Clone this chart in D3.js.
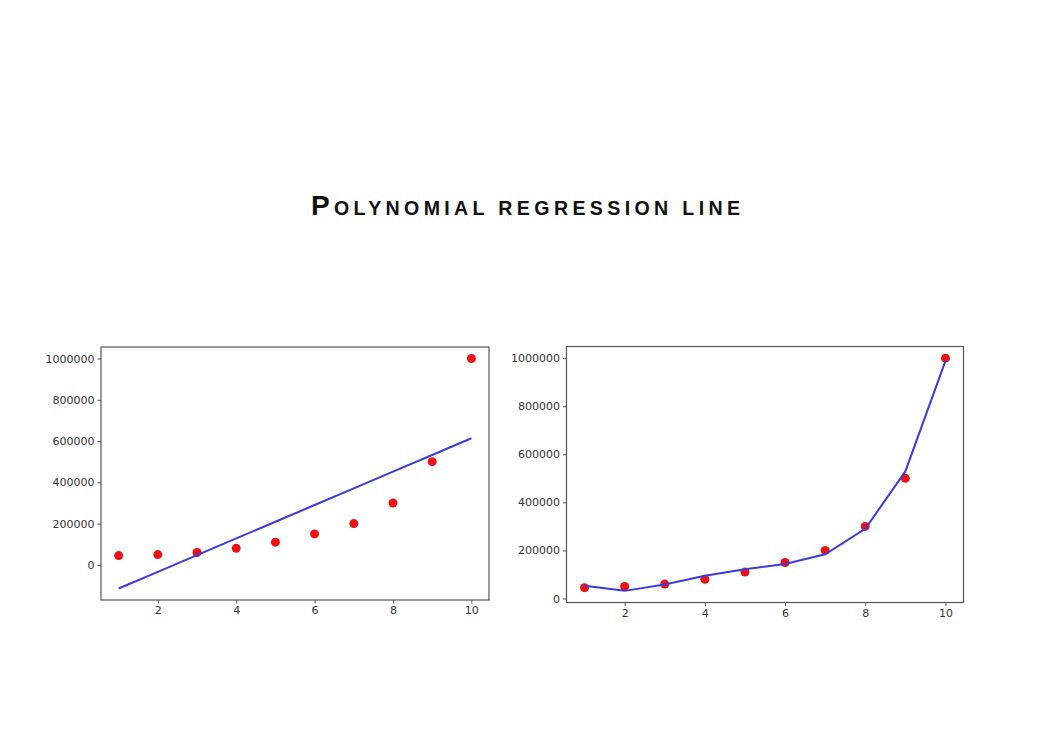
<!DOCTYPE html>
<html>
<head>
<meta charset="utf-8">
<script src="https://cdn.jsdelivr.net/npm/d3@7"></script>
<style>
  html, body { margin: 0; padding: 0; background: #ffffff; }
  svg { display: block; }
  .tick text { font-family: "DejaVu Sans", sans-serif; font-size: 11px; fill: #333; }
</style>
</head>
<body>
<svg id="chart" width="1050" height="749"></svg>
<script>
// ---- data ----
const levels = [1, 2, 3, 4, 5, 6, 7, 8, 9, 10];
const salaries = [45000, 50000, 60000, 80000, 110000, 150000, 200000, 300000, 500000, 1000000];
const linearFit = [-114454, -33576, 47303, 128182, 209061, 289939, 370818, 451697, 532576, 613455];
const polyFit = [53357, 31760, 58642, 94633, 121725, 143275, 184004, 289994, 528695, 988916];
const xTicks = [2, 4, 6, 8, 10];
const yTicks = [0, 200000, 400000, 600000, 800000, 1000000];
const titleFirst = "P";
const titleRest = "OLYNOMIAL REGRESSION LINE";

const svg = d3.select("#chart");

// title
const title = svg.append("text")
  .attr("x", 311).attr("y", 215)
  .attr("textLength", 429).attr("lengthAdjust", "spacing")
  .style("font-family", "'Liberation Sans', Arial, sans-serif")
  .style("font-weight", "bold")
  .attr("fill", "#111");
title.append("tspan").style("font-size", "28px").text(titleFirst);
title.append("tspan").style("font-size", "19.6px").text(titleRest);

function panel(box, fit) {
  const g = svg.append("g");
  const all = salaries.concat(fit);
  const lo = d3.min(all), hi = d3.max(all);
  const pad = (hi - lo) * 0.05;
  const x = d3.scaleLinear().domain([1 - 0.45, 10 + 0.45]).range([box.x0, box.x1]);
  const y = d3.scaleLinear().domain([lo - pad, hi + pad]).range([box.y1, box.y0]);

  g.append("rect")
    .attr("x", box.x0).attr("y", box.y0)
    .attr("width", box.x1 - box.x0).attr("height", box.y1 - box.y0)
    .attr("fill", "none").attr("stroke", "#555").attr("stroke-width", 1.2);

  const xa = g.append("g").attr("transform", `translate(0,${box.y1})`)
    .call(d3.axisBottom(x).tickValues(xTicks).tickSize(3.5).tickPadding(3).tickFormat(d3.format("d")));
  const ya = g.append("g").attr("transform", `translate(${box.x0},0)`)
    .call(d3.axisLeft(y).tickValues(yTicks).tickSize(3.5).tickPadding(3).tickFormat(d3.format("d")));
  [xa, ya].forEach(a => {
    a.select(".domain").remove();
    a.selectAll(".tick line").attr("stroke", "#555");
  });

  g.selectAll("circle.pt").data(levels).join("circle")
    .attr("class", "pt")
    .attr("cx", (d) => x(d)).attr("cy", (d, i) => y(salaries[i]))
    .attr("r", 4.5).attr("fill", "#ee1111");

  const line = d3.line().x((d) => x(d[0])).y((d) => y(d[1]));
  g.append("path")
    .datum(levels.map((l, i) => [l, fit[i]]))
    .attr("d", line)
    .attr("fill", "none").attr("stroke", "#3a3ae0").attr("stroke-width", 2);
}

panel({ x0: 101, x1: 489, y0: 347, y1: 600 }, linearFit);
panel({ x0: 566.5, x1: 963.5, y0: 346.5, y1: 602.5 }, polyFit);
</script>
</body>
</html>
